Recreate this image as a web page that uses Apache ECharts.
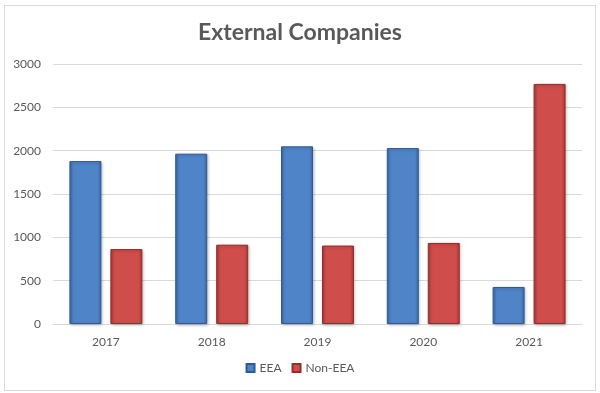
<!DOCTYPE html>
<html>
<head>
<meta charset="utf-8">
<script src="https://cdn.jsdelivr.net/npm/echarts@6/dist/echarts.min.js"></script>
<style>
  html, body { margin: 0; padding: 0; background: #fff; }
  #chart { width: 600px; height: 393px; }
  .frame { position: absolute; left: 4px; top: 5px; width: 590px; height: 384px; border: 1px solid #d9d9d9; pointer-events: none; }
</style>
</head>
<body>
<div id="chart"></div>
<div class="frame"></div>
<script>
const years = ['2017', '2018', '2019', '2020', '2021'];
const eea = [1880, 1965, 2050, 2030, 427];
const nonEea = [865, 915, 905, 935, 2770];
const yTicks = { min: 0, max: 3000, interval: 500 };

// bevelled bar look: darker edges, lighter middle
function barFill(edge, mid) {
  return new echarts.graphic.LinearGradient(0, 0, 1, 0, [
    { offset: 0, color: edge },
    { offset: 0.12, color: mid },
    { offset: 0.88, color: mid },
    { offset: 1, color: edge }
  ]);
}

const chart = echarts.init(document.getElementById('chart'));
const option = {
  animation: false,
  title: {
    text: 'External Companies',
    left: 'center',
    top: 16,
    textStyle: { fontFamily: 'Lato', fontSize: 23, fontWeight: 'bold', color: '#595959' }
  },
  legend: {
    bottom: 14,
    left: 'center',
    icon: 'rect',
    itemWidth: 8,
    itemHeight: 8,
    itemGap: 10,
    textStyle: { fontFamily: 'Lato', fontSize: 12, color: '#595959' },
    data: ['EEA', 'Non-EEA']
  },
  grid: { left: 53, right: 18, top: 64, bottom: 69 },
  xAxis: {
    type: 'category',
    data: years,
    axisLine: { lineStyle: { color: '#d9d9d9' } },
    axisTick: { show: false },
    axisLabel: { fontFamily: 'Lato', fontSize: 12, color: '#595959', margin: 12 }
  },
  yAxis: {
    type: 'value',
    min: yTicks.min,
    max: yTicks.max,
    interval: yTicks.interval,
    axisLine: { show: false },
    axisTick: { show: false },
    splitLine: { lineStyle: { color: '#d9d9d9' } },
    axisLabel: {
      fontFamily: 'Lato', fontSize: 12, color: '#595959', margin: 12,
      formatter: v => String(v)
    }
  },
  series: [
    {
      name: 'EEA',
      type: 'bar',
      data: eea,
      barWidth: 32,
      barGap: '28%',
      itemStyle: {
        color: barFill('#3a6aa8', '#4f84c9'),
        borderColor: '#2f5b92',
        borderWidth: 1,
        shadowColor: 'rgba(0,0,0,0.25)',
        shadowBlur: 3,
        shadowOffsetX: 1,
        shadowOffsetY: 1
      }
    },
    {
      name: 'Non-EEA',
      type: 'bar',
      data: nonEea,
      barWidth: 32,
      itemStyle: {
        color: barFill('#a83a37', '#cf4d4a'),
        borderColor: '#922f2d',
        borderWidth: 1,
        shadowColor: 'rgba(0,0,0,0.25)',
        shadowBlur: 3,
        shadowOffsetX: 1,
        shadowOffsetY: 1
      }
    }
  ]
};
chart.setOption(option);
</script>
</body>
</html>
